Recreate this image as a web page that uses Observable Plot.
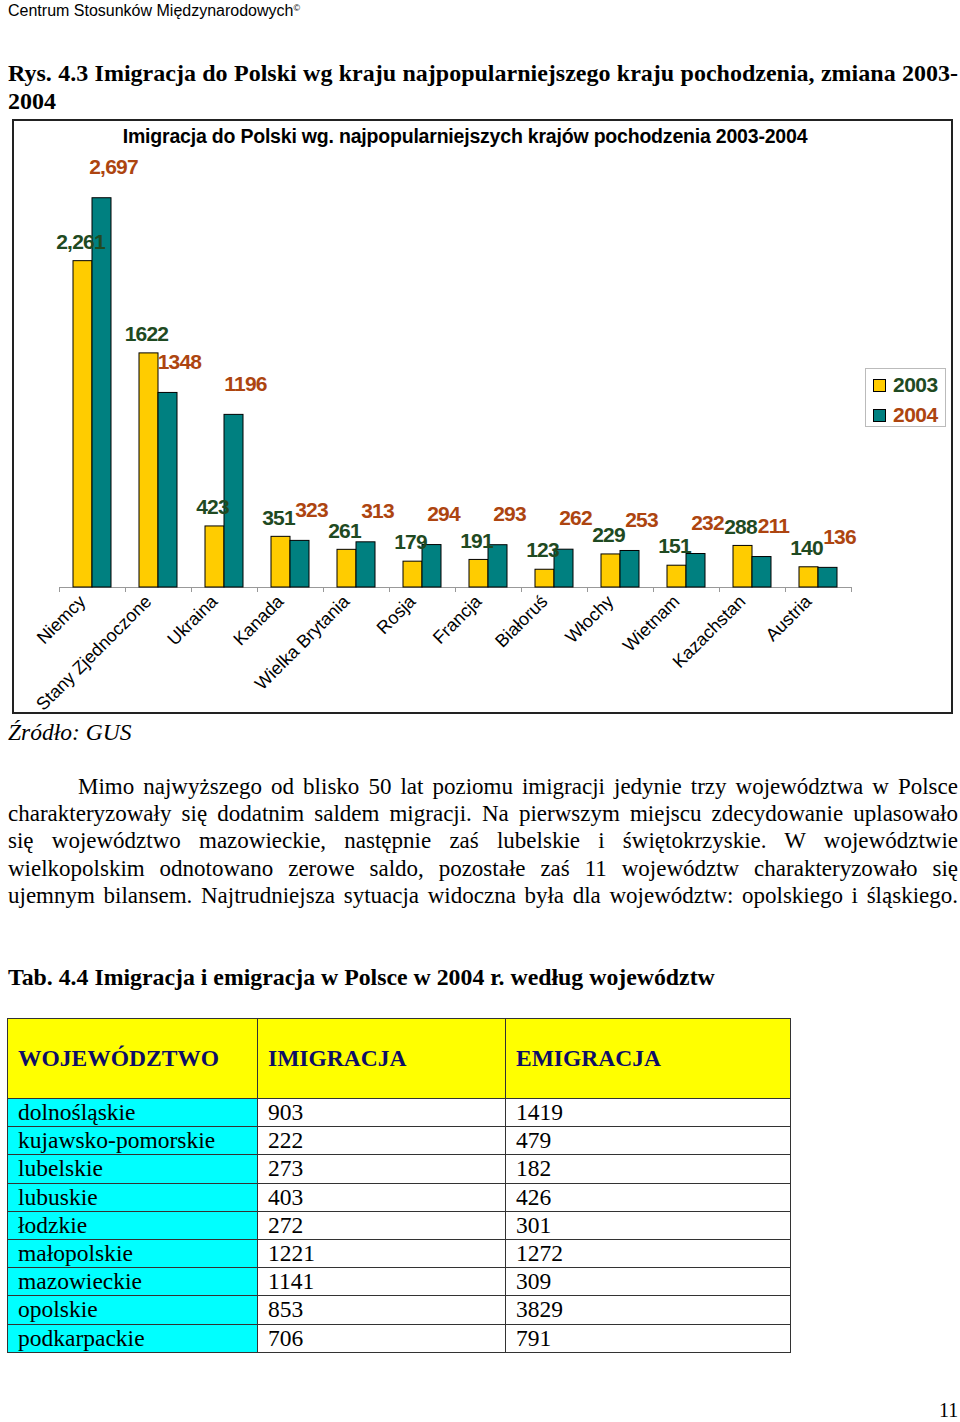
<!DOCTYPE html>
<html><head><meta charset="utf-8">
<script src="https://cdn.jsdelivr.net/npm/d3@7"></script>
<script src="https://cdn.jsdelivr.net/npm/@observablehq/plot@0.6"></script>
<style>
html,body{margin:0;padding:0;background:#fff;}
body{position:relative;width:960px;height:1422px;overflow:hidden;}
.abs{position:absolute;white-space:nowrap;}
.serif{font-family:"Liberation Serif","Times New Roman",serif;color:#000;}
.sans{font-family:"Liberation Sans",Arial,sans-serif;color:#000;}
.just{text-align:justify;text-align-last:justify;}
#chart{position:absolute;left:12px;top:119px;width:937px;height:591px;border:2px solid #222;background:#fff;}
#chart svg{position:absolute;left:0;top:0;}
#chart svg .vlab text{letter-spacing:-0.8px;}
#ctitle{position:absolute;left:0;width:902px;top:6px;text-align:center;font:bold 19.5px/19.5px "Liberation Sans",Arial,sans-serif;letter-spacing:-0.2px;color:#000;}
.lgbox{position:absolute;left:851px;top:247px;width:79px;height:57px;border:1px solid #bbb;}
.sw{position:absolute;width:11px;height:11px;border:1px solid #000;}
.lgt{position:absolute;font:bold 21px/21px "Liberation Sans",Arial,sans-serif;white-space:nowrap;letter-spacing:-0.5px;}
table{position:absolute;left:7px;top:1018px;border-collapse:collapse;font-family:"Liberation Serif","Times New Roman",serif;font-size:23.5px;line-height:23px;}
td{border:1px solid #333;padding:0 10px;white-space:nowrap;vertical-align:middle;}
tr.hd td{height:79px;background:#ffff00;color:#0d0d66;font-weight:bold;font-size:23.5px;}
tr.dr td{height:27.2px;}
tr.dr td:first-child{background:#00ffff;}
</style></head><body>

<div class="abs sans" style="left:8px;top:3px;font-size:16px;line-height:16px;">Centrum Stosunków Międzynarodowych<sup style="font-size:9px;vertical-align:top;position:relative;top:-3px;">©</sup></div>

<div class="abs serif just" style="left:8px;top:61px;width:950px;font-size:24px;line-height:24px;font-weight:bold;">Rys. 4.3 Imigracja do Polski wg kraju najpopularniejszego kraju pochodzenia, zmiana 2003-</div>
<div class="abs serif" style="left:8px;top:89px;font-size:24px;line-height:24px;font-weight:bold;">2004</div>

<div id="chart">
  <div id="ctitle">Imigracja do Polski wg. najpopularniejszych krajów pochodzenia 2003-2004</div>
  <div class="lgbox"></div>
  <div id="legend"></div>
</div>

<div class="abs serif" style="left:8px;top:721px;font-size:23.5px;line-height:23.5px;font-style:italic;">Źródło: GUS</div>

<div id="para"></div>

<div class="abs serif" style="left:8px;top:966px;font-size:23.8px;line-height:23.8px;font-weight:bold;">Tab. 4.4 Imigracja i emigracja w Polsce w 2004 r. według województw</div>

<table id="tab"></table>

<div class="abs serif" style="left:939px;top:1402px;font-size:20px;line-height:17px;">11</div>

<script>
// ---- chart data ----
const countries = ["Niemcy","Stany Zjednoczone","Ukraina","Kanada","Wielka Brytania","Rosja","Francja","Białoruś","Włochy","Wietnam","Kazachstan","Austria"];
const values2003 = [2261,1622,423,351,261,179,191,123,229,151,288,140];
const values2004 = [2697,1348,1196,323,313,294,293,262,253,232,211,136];
const labels2003 = ["2,261","1622","423","351","261","179","191","123","229","151","288","140"];
const labels2004 = ["2,697","1348","1196","323","313","294","293","262","253","232","211","136"];
const years = ["2003","2004"];
const barColors = ["#FFCC00","#008080"];
const labelColors = ["#1f4a22","#ad4510"];

// ---- table data ----
const tableHeaders = ["WOJEWÓDZTWO","IMIGRACJA","EMIGRACJA"];
const voivodeships = ["dolnośląskie","kujawsko-pomorskie","lubelskie","lubuskie","łodzkie","małopolskie","mazowieckie","opolskie","podkarpackie"];
const immigration = [903,222,273,403,272,1221,1141,853,706];
const emigration = [1419,479,182,426,301,1272,309,3829,791];

// ---- paragraph lines ----
const paraLines = [
  "Mimo najwyższego od blisko 50 lat poziomu imigracji jedynie trzy województwa w Polsce",
  "charakteryzowały się dodatnim saldem migracji. Na pierwszym miejscu zdecydowanie uplasowało",
  "się województwo mazowieckie, następnie zaś lubelskie i świętokrzyskie. W województwie",
  "wielkopolskim odnotowano zerowe saldo, pozostałe zaś 11 województw charakteryzowało się",
  "ujemnym bilansem. Najtrudniejsza sytuacja widoczna była dla województw: opolskiego i śląskiego."
];

const d03 = countries.map((c, i) => ({country: c, value: values2003[i], label: labels2003[i]}));
const d04 = countries.map((c, i) => ({country: c, value: values2004[i], label: labels2004[i]}));

const plot = Plot.plot({
  width: 937,
  height: 591,
  marginLeft: 45,
  marginRight: 100,
  marginTop: 33,
  marginBottom: 125,
  style: {fontFamily: "Liberation Sans, Arial, sans-serif", background: "transparent", overflow: "visible", color: "#000"},
  x: {domain: countries, padding: 0},
  y: {domain: [0, 3000], axis: null},
  marks: [
    Plot.ruleY([0], {stroke: "#999"}),
    Plot.axisX({tickSize: 5, tickFormat: () => "", dx: -33, stroke: "#999", label: null}),
    Plot.axisX([countries[countries.length - 1]], {tickSize: 5, tickFormat: () => "", dx: 33, stroke: "#999", label: null}),
    Plot.axisX({tickSize: 0, tickRotate: -45, tickPadding: 11, dx: -10, fontSize: 18, fill: "#000", label: null}),
    Plot.barY(d03, {x: "country", y: "value", fill: barColors[0], stroke: "#000", strokeWidth: 1, insetLeft: 14, insetRight: 33}),
    Plot.barY(d04, {x: "country", y: "value", fill: barColors[1], stroke: "#000", strokeWidth: 1, insetLeft: 33, insetRight: 14}),
    Plot.text(d03, {x: "country", y: "value", text: "label", dx: -12, dy: -19, fill: labelColors[0], fontSize: 21, fontWeight: "bold", className: "vlab"}),
    Plot.text(d04, {x: "country", y: "value", text: "label", dx: 21, dy: -31, fill: labelColors[1], fontSize: 21, fontWeight: "bold", className: "vlab"})
  ]
});
document.getElementById("chart").appendChild(plot);

// legend
const lg = document.getElementById("legend");
years.forEach((y, i) => {
  const sw = document.createElement("div");
  sw.className = "sw";
  sw.style.left = "859px";
  sw.style.top = (258 + 30 * i) + "px";
  sw.style.background = barColors[i];
  lg.appendChild(sw);
  const t = document.createElement("div");
  t.className = "lgt";
  t.style.left = "879px";
  t.style.top = (253 + 30 * i) + "px";
  t.style.color = labelColors[i];
  t.textContent = y;
  lg.appendChild(t);
});

// paragraph
const para = document.getElementById("para");
paraLines.forEach((line, i) => {
  const d = document.createElement("div");
  d.className = "abs serif just";
  const left = i === 0 ? 78 : 8;
  d.style.left = left + "px";
  d.style.width = (958 - left) + "px";
  d.style.top = (775 + 27.2 * i) + "px";
  d.style.fontSize = "23px";
  d.style.lineHeight = "23px";
  d.textContent = line;
  para.appendChild(d);
});

// table
const tab = document.getElementById("tab");
const colW = [250, 248, 285];
const hr = document.createElement("tr");
hr.className = "hd";
tableHeaders.forEach((h, j) => {
  const td = document.createElement("td");
  td.textContent = h;
  td.style.width = (colW[j] - 21) + "px";
  hr.appendChild(td);
});
tab.appendChild(hr);
voivodeships.forEach((v, i) => {
  const tr = document.createElement("tr");
  tr.className = "dr";
  [v, immigration[i], emigration[i]].forEach(val => {
    const td = document.createElement("td");
    td.textContent = val;
    tr.appendChild(td);
  });
  tab.appendChild(tr);
});
</script>
</body></html>
